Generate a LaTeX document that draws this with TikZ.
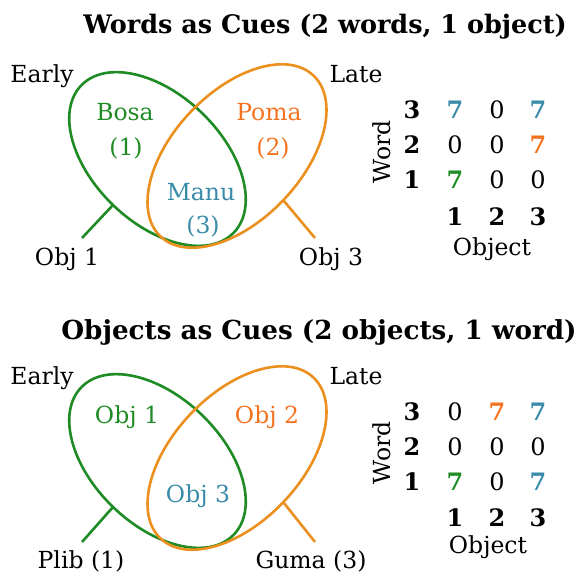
\documentclass[tikz,border=0pt]{standalone}
\usepackage{fontspec}
\setmainfont{DejaVu Serif}
\definecolor{vgreen}{HTML}{1E8B24}
\definecolor{vorange}{HTML}{EB8F1E}
\definecolor{torange}{HTML}{F47321}
\definecolor{tblue}{HTML}{3A8BA9}
\begin{document}
\begin{tikzpicture}[x=1pt,y=-1pt,
  lbl/.style={font=\fontsize{23.5}{26}\selectfont, inner sep=0pt, anchor=base},
  ttl/.style={font=\bfseries\fontsize{25.5}{30}\selectfont, inner sep=0pt},
  num/.style={font=\fontsize{24}{26}\selectfont, inner sep=0pt},
  bnum/.style={font=\bfseries\fontsize{24}{26}\selectfont, inner sep=0pt},
  gell/.style={draw=vgreen, line width=2.6pt},
  oell/.style={draw=vorange, line width=2.6pt},
  gline/.style={draw=vgreen, line width=2.6pt},
  oline/.style={draw=vorange, line width=2.6pt}]
\useasboundingbox (0,0) rectangle (580,574);

% ===== Top panel =====
\node[ttl] (t1) at (325,27) {Words as Cues (2 words, 1 object)};
\draw[gell, rotate around={-44:(157.5,159)}] (157.5,159) ellipse [x radius=106, y radius=64];
\draw[oell, rotate around={46.4:(237,156)}] (237,156) ellipse [x radius=111, y radius=64];
\node[lbl] (e1) at (42,82) {Early};
\node[lbl] (l1) at (356,82) {Late};
\node[lbl, text=vgreen] (bosa) at (125,120) {Bosa};
\node[lbl, text=vgreen] (b1) at (126,155) {(1)};
\node[lbl, text=torange] (poma) at (269,120) {Poma};
\node[lbl, text=torange] (p2) at (273,155) {(2)};
\node[lbl, text=tblue] (manu) at (201,200) {Manu};
\node[lbl, text=tblue] (m3) at (203,233) {(3)};
\node[lbl] (o1) at (67,265) {Obj 1};
\node[lbl] (o3) at (331,265) {Obj 3};
\coordinate (ga) at (113,205); \coordinate (gb) at (82,238);
\coordinate (oa) at (283.3,200.2); \coordinate (ob) at (315,238);
\draw[gline] (ga) -- (gb);
\draw[oline] (oa) -- (ob);

% matrix top
\node[bnum] (r3a) at (412,110) {3};
\node[bnum] (r2a) at (412,145) {2};
\node[bnum] (r1a) at (412,180) {1};
\node[bnum, text=tblue] (a31) at (455,110) {7};
\node[num] (a32) at (497,110) {0};
\node[bnum, text=tblue] (a33) at (538,110) {7};
\node[num] (a21) at (455,145) {0};
\node[num] (a22) at (497,145) {0};
\node[bnum, text=torange] (a23) at (538,145) {7};
\node[bnum, text=vgreen] (a11) at (455,180) {7};
\node[num] (a12) at (497,180) {0};
\node[num] (a13) at (538,180) {0};
\node[bnum] (c1a) at (455,217) {1};
\node[bnum] (c2a) at (497,217) {2};
\node[bnum] (c3a) at (538,217) {3};
\node[lbl, anchor=center] (obja) at (492,249) {Object};
\node[lbl, anchor=center, rotate=90] (worda) at (382,152) {Word};

% ===== Bottom panel =====
\node[ttl, font=\bfseries\fontsize{26.2}{30}\selectfont] (t2) at (319,332) {Objects as Cues (2 objects, 1 word)};
\draw[gell, rotate around={-44:(157.5,461)}] (157.5,461) ellipse [x radius=106, y radius=64];
\draw[oell, rotate around={46.4:(237,458)}] (237,458) ellipse [x radius=111, y radius=64];
\node[lbl] (e2) at (42,384) {Early};
\node[lbl] (l2) at (356,384) {Late};
\node[lbl, text=vgreen] (ob1) at (127,423) {Obj 1};
\node[lbl, text=torange] (ob2) at (267,423) {Obj 2};
\node[lbl, text=tblue] (ob3) at (198,502) {Obj 3};
\node[lbl] (plib) at (81,568) {Plib (1)};
\node[lbl] (guma) at (311,568) {Guma (3)};
\coordinate (gc) at (113,507); \coordinate (gd) at (82,542);
\coordinate (oc) at (283.3,502.2); \coordinate (od) at (315,542);
\draw[gline] (gc) -- (gd);
\draw[oline] (oc) -- (od);

% matrix bottom
\node[bnum] (r3b) at (412,412) {3};
\node[bnum] (r2b) at (412,447) {2};
\node[bnum] (r1b) at (412,482) {1};
\node[num] (b31) at (455,412) {0};
\node[bnum, text=torange] (b32) at (497,412) {7};
\node[bnum, text=tblue] (b33) at (538,412) {7};
\node[num] (b21) at (455,447) {0};
\node[num] (b22) at (497,447) {0};
\node[num] (b23) at (538,447) {0};
\node[bnum, text=vgreen] (b11) at (455,482) {7};
\node[num] (b12) at (497,482) {0};
\node[bnum, text=tblue] (b13) at (538,482) {7};
\node[bnum] (c1b) at (455,518) {1};
\node[bnum] (c2b) at (497,518) {2};
\node[bnum] (c3b) at (538,518) {3};
\node[lbl, anchor=center] (objb) at (488,547) {Object};
\node[lbl, anchor=center, rotate=90] (wordb) at (382,453) {Word};
\end{tikzpicture}
\end{document}
